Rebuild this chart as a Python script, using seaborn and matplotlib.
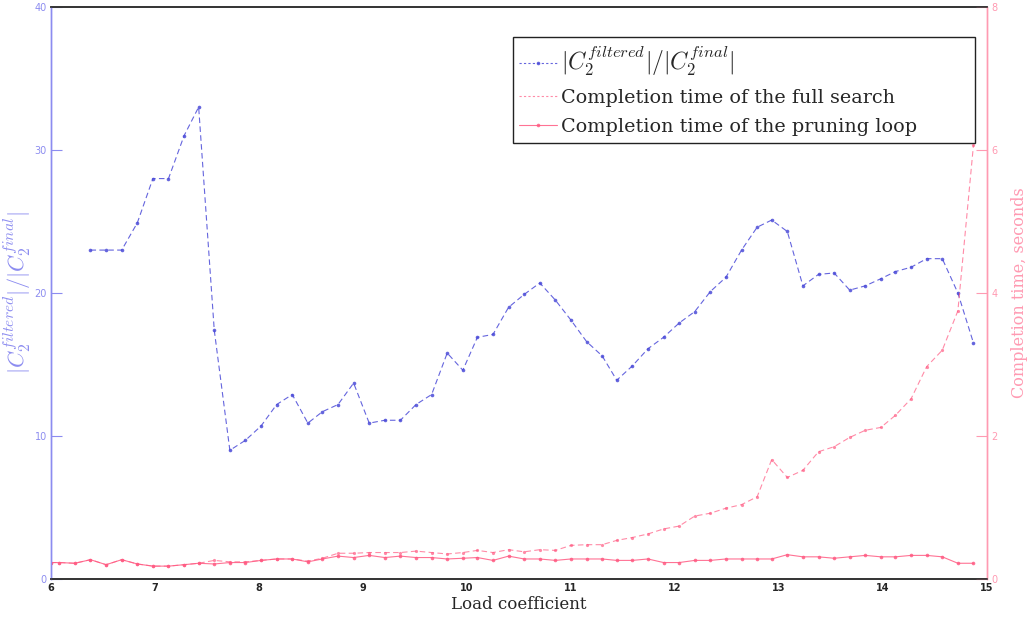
import matplotlib
matplotlib.use("Agg")
import matplotlib.pyplot as plt
import seaborn as sns
from matplotlib.lines import Line2D
from matplotlib.patches import Rectangle

# ---- data ----
load_pink = [6.0, 6.08, 6.23, 6.38, 6.53, 6.68, 6.83, 6.98, 7.13, 7.28, 7.42,
             7.57, 7.72, 7.87, 8.02, 8.17, 8.32, 8.47, 8.61, 8.76, 8.91,
             9.06, 9.21, 9.36, 9.51, 9.66, 9.81, 9.96, 10.10, 10.25, 10.40,
             10.55, 10.70, 10.85, 11.00, 11.15, 11.30, 11.44, 11.59, 11.74, 11.89,
             12.04, 12.19, 12.34, 12.49, 12.64, 12.79, 12.93, 13.08, 13.23, 13.38,
             13.53, 13.68, 13.83, 13.98, 14.12, 14.27, 14.42, 14.57, 14.72, 14.87]
load_blue = load_pink[3:]

ratio = [23, 23, 23, 24.9, 28, 28, 31, 33, 17.4, 9,
         9.7, 10.7, 12.2, 12.9, 10.9, 11.7, 12.2, 13.7, 10.9, 11.1,
         11.1, 12.2, 12.9, 15.8, 14.6, 16.9, 17.1, 19.0, 19.9, 20.7,
         19.5, 18.1, 16.6, 15.6, 13.9, 14.9, 16.1, 16.9, 17.9, 18.7,
         20.1, 21.1, 23.0, 24.6, 25.1, 24.3, 20.5, 21.3, 21.4, 20.2,
         20.5, 21.0, 21.5, 21.8, 22.4, 22.4, 20.0, 16.5]

full_search = [0.23, 0.23, 0.22, 0.27, 0.20, 0.27, 0.21, 0.18, 0.18, 0.20, 0.22,
               0.26, 0.24, 0.24, 0.26, 0.28, 0.28, 0.25, 0.29, 0.36, 0.36,
               0.37, 0.37, 0.37, 0.39, 0.37, 0.35, 0.37, 0.40, 0.37, 0.41,
               0.38, 0.41, 0.40, 0.47, 0.48, 0.48, 0.54, 0.58, 0.63, 0.70,
               0.74, 0.88, 0.92, 0.99, 1.04, 1.15, 1.67, 1.42, 1.52, 1.78,
               1.85, 1.98, 2.08, 2.12, 2.29, 2.52, 2.97, 3.20, 3.75, 6.07]

pruning = [0.23, 0.23, 0.22, 0.27, 0.20, 0.27, 0.21, 0.18, 0.18, 0.20, 0.22,
           0.21, 0.23, 0.23, 0.26, 0.28, 0.28, 0.24, 0.28, 0.32, 0.30,
           0.33, 0.30, 0.32, 0.30, 0.30, 0.28, 0.29, 0.30, 0.26, 0.32,
           0.28, 0.28, 0.26, 0.28, 0.28, 0.28, 0.26, 0.26, 0.28, 0.23,
           0.23, 0.26, 0.26, 0.28, 0.28, 0.28, 0.28, 0.34, 0.31, 0.31,
           0.29, 0.31, 0.33, 0.31, 0.31, 0.33, 0.33, 0.31, 0.22, 0.22]

labels = [r"$|C_2^{filtered}|/|C_2^{final}|$",
          "Completion time of the full search",
          "Completion time of the pruning loop"]
x_ticks = [6, 7, 8, 9, 10, 11, 12, 13, 14, 15]
left_ticks = [0, 10, 20, 30, 40]
right_ticks = [0, 2, 4, 6, 8]

# ---- style ----
sns.set_style("white")
plt.rcParams["font.family"] = ["DejaVu Serif", "DejaVu Sans"]
plt.rcParams["mathtext.fontset"] = "cm"

BLUE = "#4a4ad8"
BLUE_LIGHT = "#8c8cf0"
PINK = "#ff5a82"
PINK_LIGHT = "#ff9ab2"

fig = plt.figure(figsize=(10.36, 6.17), dpi=100)
ax = fig.add_axes([0.0492, 0.0616, 0.9035, 0.9271])
ax2 = ax.twinx()

sns.lineplot(x=load_blue, y=ratio, ax=ax, color=BLUE, linestyle=(0, (5, 3)),
             linewidth=0.8, marker="o", markersize=2.6, markeredgewidth=0,
             alpha=0.85, label=labels[0], legend=False)
sns.lineplot(x=load_pink, y=full_search, ax=ax2, color=PINK, linestyle=(0, (5, 3)),
             linewidth=0.8, marker="o", markersize=2.3, markeredgewidth=0,
             alpha=0.7, label=labels[1], legend=False)
sns.lineplot(x=load_pink, y=pruning, ax=ax2, color=PINK, linestyle="-",
             linewidth=0.8, marker="o", markersize=2.6, markeredgewidth=0,
             alpha=0.85, label=labels[2], legend=False)

ax.set_xlim(6, 15)
ax.set_ylim(0, 40)
ax2.set_ylim(0, 8)
ax.set_xticks(x_ticks)
ax.set_xticklabels([str(t) for t in x_ticks], fontsize=7, fontweight="bold",
                   family="DejaVu Sans")
ax.set_yticks(left_ticks)
ax.set_yticklabels([str(t) for t in left_ticks], fontsize=7, color=BLUE_LIGHT,
                   family="DejaVu Sans")
ax2.set_yticks(right_ticks)
ax2.set_yticklabels([str(t) for t in right_ticks], fontsize=7, color=PINK_LIGHT,
                    family="DejaVu Sans")

ax.tick_params(axis="x", direction="in", length=8, width=1, color="#222222", pad=3)
ax.tick_params(axis="y", direction="in", length=8, width=0.8, color=BLUE_LIGHT, pad=3)
ax2.tick_params(axis="y", direction="in", length=8, width=0.8, color=PINK_LIGHT, pad=3)

for a in (ax, ax2):
    a.spines["top"].set_color("#333333")
    a.spines["bottom"].set_color("#333333")
    a.spines["top"].set_linewidth(1.2)
    a.spines["bottom"].set_linewidth(1.2)
    a.spines["left"].set_color(BLUE_LIGHT)
    a.spines["right"].set_color(PINK_LIGHT)
    a.spines["left"].set_linewidth(1.0)
    a.spines["right"].set_linewidth(1.0)
    a.grid(False)

ax.set_xlabel("Load coefficient", fontsize=12, labelpad=2)
ax.set_ylabel(labels[0], fontsize=16, color=BLUE_LIGHT)
ax.yaxis.set_label_coords(-0.019, 0.5)
ax2.set_ylabel("Completion time, seconds", fontsize=11.5, color=PINK_LIGHT, labelpad=10)

# legend frame (MATLAB-style, wider than its content)
frame = Rectangle((0.4936, 0.763), 0.4934, 0.1846, transform=ax2.transAxes,
                  facecolor="white", edgecolor="#222222", linewidth=1.0, zorder=5)
ax2.add_patch(frame)

handles = [
    Line2D([], [], color=BLUE, linestyle=(0, (2, 2)), linewidth=0.8, marker="o",
           markersize=2.6, markeredgewidth=0, alpha=0.85),
    Line2D([], [], color=PINK, linestyle=(0, (2, 2)), linewidth=0.8, alpha=0.7),
    Line2D([], [], color=PINK, linestyle="-", linewidth=0.8, marker="o",
           markersize=2.6, markeredgewidth=0, alpha=0.85),
]
leg = ax2.legend(handles, labels, loc="upper left", bbox_to_anchor=(0.4936, 0.9476),
                 fontsize=13.8, frameon=False, handlelength=2.0, handletextpad=0.2,
                 borderpad=0.3, labelspacing=0.58, borderaxespad=0)
leg.set_zorder(6)
leg.get_texts()[0].set_fontsize(17)

fig.savefig("out.png", dpi=100)
